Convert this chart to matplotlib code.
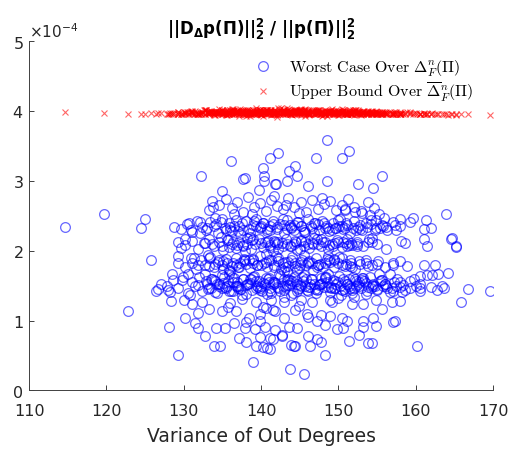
import numpy as np
import matplotlib
matplotlib.use("Agg")
import matplotlib.pyplot as plt
from matplotlib.font_manager import FontProperties

# values in units of 1e-4, grouped by region of the cloud
out_x = [114.6, 119.7, 122.8, 124.5, 125.0, 125.7, 126.4, 126.7, 127.8, 128.1,
         129.2, 138.9, 143.7, 145.6, 148.3, 160.2, 163.9, 164.5, 165.2, 165.9,
         166.8, 169.6, 136.1, 148.5, 128.8]
out_worst = [2.34, 2.52, 1.14, 2.33, 2.45, 1.87, 1.43, 1.45, 1.50, 0.91,
             0.50, 0.41, 0.31, 0.24, 0.50, 0.64, 2.53, 2.17, 2.05, 1.26,
             1.45, 1.42, 3.29, 3.58, 2.34]
out_bound = [3.98, 3.97, 3.96, 3.96, 3.96, 3.97, 3.96, 3.97, 3.95, 3.96,
             3.96, 3.97, 3.98, 3.99, 3.97, 3.96, 3.95, 3.95, 3.96, 3.96,
             3.96, 3.94, 4.00, 3.98, 3.97]

top_x = [151.3, 150.5, 147.1, 142.2, 141.2, 155.6, 154.4, 144.4, 143.6, 140.2,
         140.4, 148.5, 144.6, 137.7, 140.4, 139.7, 141.8, 143.3, 132.2, 137.9,
         141.9, 146.0, 152.5, 135.0]
top_worst = [3.43, 3.32, 3.32, 3.40, 3.33, 3.07, 2.89, 3.21, 3.14, 3.18,
             3.07, 3.00, 3.07, 3.02, 3.00, 2.87, 2.96, 2.99, 3.07, 3.04,
             2.96, 2.92, 2.95, 2.85]
top_bound = [3.99, 3.98, 4.01, 3.97, 3.99, 3.96, 3.97, 4.02, 3.98, 3.99,
             3.97, 4.00, 3.98, 3.96, 3.99, 3.98, 4.01, 3.97, 3.96, 3.98,
             4.00, 3.97, 3.95, 3.98]

b5_x = [133.2, 134.5, 135.4, 136.2, 136.9, 137.6, 138.3, 139.1, 139.8, 140.6,
        141.3, 142.0, 142.8, 143.5, 144.3, 145.1, 145.8, 146.6, 147.4, 148.1,
        148.9, 149.7, 150.4, 151.2, 152.0, 152.9, 153.8, 154.6, 138.8, 141.7,
        144.9, 147.9, 150.9, 136.5, 143.2]
b5_worst = [2.58, 2.66, 2.74, 2.61, 2.70, 2.55, 2.77, 2.63, 2.68, 2.57,
            2.72, 2.64, 2.59, 2.75, 2.62, 2.69, 2.56, 2.73, 2.60, 2.67,
            2.71, 2.58, 2.65, 2.74, 2.62, 2.57, 2.69, 2.61, 2.53, 2.78,
            2.54, 2.76, 2.59, 2.52, 2.66]
b5_bound = [3.97, 3.99, 3.96, 4.01, 3.98, 3.95, 4.00, 3.97, 4.02, 3.96,
            3.98, 3.94, 4.01, 3.97, 3.99, 4.03, 3.96, 3.98, 4.00, 3.95,
            3.97, 4.02, 3.99, 3.96, 3.98, 3.94, 4.00, 3.97, 3.99, 3.96,
            4.01, 3.98, 3.95, 3.97, 3.99]

b4_x = [129.6, 130.4, 131.0, 131.7, 132.3, 132.9, 133.4, 133.9, 134.4, 134.9,
        135.3, 135.8, 136.2, 136.7, 137.1, 137.6, 138.0, 138.5, 138.9, 139.4,
        139.8, 140.3, 140.7, 141.2, 141.6, 142.1, 142.5, 143.0, 143.4, 143.9,
        144.3, 144.8, 145.2, 145.7, 146.1, 146.6, 147.0, 147.5, 147.9, 148.4,
        148.8, 149.3, 149.7, 150.2, 150.6, 151.1, 151.5, 152.0, 152.5, 153.0,
        153.6, 154.2, 154.9, 155.6, 156.3, 157.1, 158.0, 134.1, 137.3, 140.0,
        142.8, 145.5, 148.1, 150.9, 136.0, 139.1, 143.7, 146.9, 149.9, 152.8,
        133.0, 134.2, 135.4, 136.5, 137.5, 138.4, 139.3, 140.2, 141.1, 142.0,
        142.9, 143.8, 144.7, 145.6, 146.5, 147.4, 148.3, 149.2, 150.1, 151.0,
        151.9, 152.8, 153.7, 154.7, 155.8, 134.8, 137.0, 139.8, 141.6, 143.3,
        145.1, 146.9, 148.7, 150.5, 152.3, 154.2, 136.0, 140.7, 144.2, 149.6]
b4_worst = [2.31, 2.38, 2.27, 2.43, 2.34, 2.29, 2.41, 2.36, 2.25, 2.45,
            2.32, 2.39, 2.28, 2.44, 2.35, 2.30, 2.42, 2.26, 2.37, 2.46,
            2.33, 2.40, 2.28, 2.35, 2.43, 2.31, 2.38, 2.26, 2.44, 2.34,
            2.29, 2.41, 2.36, 2.27, 2.45, 2.32, 2.39, 2.30, 2.43, 2.35,
            2.28, 2.40, 2.33, 2.46, 2.31, 2.37, 2.26, 2.42, 2.34, 2.29,
            2.39, 2.44, 2.32, 2.37, 2.30, 2.41, 2.35, 2.47, 2.24, 2.36,
            2.45, 2.27, 2.39, 2.33, 2.30, 2.42, 2.37, 2.25, 2.44, 2.31,
            2.33, 2.38, 2.30, 2.36, 2.40, 2.31, 2.35, 2.39, 2.29, 2.34,
            2.37, 2.32, 2.41, 2.30, 2.35, 2.38, 2.33, 2.29, 2.36, 2.40,
            2.32, 2.37, 2.34, 2.30, 2.36, 2.41, 2.28, 2.34, 2.38, 2.31,
            2.36, 2.40, 2.32, 2.35, 2.29, 2.38, 2.34, 2.31, 2.37, 2.33]
b4_bound = [3.96, 3.98, 4.00, 3.95, 3.97, 4.02, 3.99, 3.94, 3.97, 4.01,
            3.98, 3.96, 4.03, 3.97, 3.93, 3.99, 4.00, 3.96, 3.98, 4.04,
            3.95, 3.97, 4.01, 3.99, 3.96, 3.92, 3.98, 4.02, 3.97, 3.95,
            4.00, 3.98, 3.94, 4.03, 3.97, 3.99, 3.96, 4.01, 3.93, 3.98,
            3.97, 4.00, 3.95, 3.99, 4.02, 3.96, 3.98, 3.94, 4.01, 3.97,
            3.99, 3.96, 3.98, 3.95, 3.97, 3.96, 3.95, 3.98, 4.00, 3.96,
            3.99, 4.01, 3.95, 3.97, 4.00, 3.96, 3.98, 4.02, 3.94, 3.97,
            3.97, 3.99, 3.96, 4.01, 3.98, 3.95, 4.00, 3.97, 3.99, 3.96,
            4.02, 3.98, 3.95, 3.99, 3.97, 4.01, 3.96, 3.98, 4.00, 3.97,
            3.99, 3.96, 3.98, 3.95, 3.97, 3.98, 4.00, 3.96, 3.99, 4.02,
            3.97, 3.95, 3.99, 3.98, 4.01, 3.96, 3.97, 4.00, 3.98, 3.96]

b3_x = [130.2, 131.1, 131.9, 132.6, 133.3, 133.9, 134.5, 135.1, 135.6, 136.2,
        136.7, 137.2, 137.7, 138.2, 138.7, 139.2, 139.7, 140.2, 140.7, 141.2,
        141.7, 142.2, 142.7, 143.2, 143.7, 144.2, 144.7, 145.2, 145.7, 146.2,
        146.7, 147.2, 147.7, 148.2, 148.7, 149.2, 149.8, 150.4, 151.0, 151.7,
        152.4, 153.2, 154.0, 155.0, 156.1, 134.8, 137.9, 140.9, 143.9, 146.9,
        149.5, 135.9, 139.0, 142.0, 145.0, 148.0, 151.3, 138.5, 141.5, 144.5,
        133.6, 135.0, 136.4, 137.6, 138.8, 140.0, 141.1, 142.2, 143.3, 144.4,
        145.5, 146.6, 147.7, 148.8, 149.9, 151.1, 152.4, 153.8, 135.7, 138.2,
        140.5, 142.8, 145.1, 147.3, 149.3, 151.6, 136.9, 141.8, 146.0, 150.6]
b3_worst = [2.08, 2.14, 2.03, 2.11, 2.17, 2.06, 2.12, 2.01, 2.15, 2.09,
            2.04, 2.13, 2.07, 2.18, 2.02, 2.10, 2.16, 2.05, 2.12, 2.08,
            2.14, 2.03, 2.11, 2.17, 2.06, 2.09, 2.01, 2.15, 2.12, 2.04,
            2.10, 2.16, 2.07, 2.13, 2.02, 2.09, 2.15, 2.05, 2.11, 2.08,
            2.13, 2.06, 2.17, 2.10, 2.03, 2.19, 2.00, 2.14, 2.07, 2.18,
            2.11, 2.05, 2.16, 2.09, 2.02, 2.13, 2.08, 2.20, 1.99, 2.12,
            2.10, 2.06, 2.13, 2.08, 2.15, 2.11, 2.05, 2.12, 2.09, 2.14,
            2.07, 2.11, 2.16, 2.08, 2.12, 2.06, 2.10, 2.13, 2.15, 2.09,
            2.12, 2.07, 2.14, 2.10, 2.06, 2.11, 2.08, 2.13, 2.09, 2.12]
b3_bound = [3.97, 3.99, 3.95, 4.01, 3.98, 3.96, 4.03, 3.97, 3.94, 4.00,
            3.98, 3.96, 4.02, 3.99, 3.95, 3.97, 4.01, 3.93, 3.98, 4.00,
            3.96, 4.04, 3.97, 3.99, 3.95, 4.01, 3.98, 3.96, 4.02, 3.94,
            3.99, 3.97, 4.00, 3.95, 3.98, 4.03, 3.96, 3.99, 3.97, 3.95,
            3.98, 3.96, 3.97, 3.96, 3.95, 3.99, 4.01, 3.97, 3.95, 4.00,
            3.97, 3.98, 4.02, 3.96, 3.99, 3.94, 3.98, 4.00, 3.96, 4.01,
            3.98, 3.96, 4.00, 3.97, 3.99, 3.95, 4.01, 3.98, 3.96, 4.02,
            3.97, 3.99, 3.95, 4.00, 3.98, 3.96, 3.97, 3.99, 3.96, 4.01,
            3.98, 3.95, 4.00, 3.97, 3.99, 3.96, 4.02, 3.98, 3.97, 3.95]

b2_x = [129.2, 130.1, 130.9, 131.6, 132.2, 132.8, 133.4, 133.9, 134.4, 134.9,
        135.4, 135.9, 136.3, 136.8, 137.2, 137.7, 138.1, 138.6, 139.0, 139.5,
        139.9, 140.4, 140.8, 141.3, 141.7, 142.2, 142.6, 143.1, 143.5, 144.0,
        144.4, 144.9, 145.3, 145.8, 146.2, 146.7, 147.1, 147.6, 148.0, 148.5,
        148.9, 149.4, 149.9, 150.4, 150.9, 151.5, 152.1, 152.8, 153.5, 154.3,
        155.1, 156.0, 157.0, 133.1, 136.0, 138.9, 141.9, 144.7, 147.4, 150.1,
        135.1, 137.9, 140.6, 143.3, 146.0, 148.7, 151.8, 131.3, 142.9, 145.6,
        134.0, 135.1, 136.2, 137.3, 138.4, 139.5, 140.6, 141.7, 142.8, 143.9,
        145.0, 146.1, 147.2, 148.3, 149.4, 150.5, 151.6, 152.7, 153.8, 155.0,
        134.6, 136.8, 138.9, 141.0, 143.1, 145.2, 147.3, 149.4, 151.5, 153.6,
        135.6, 137.8, 140.0, 142.2, 144.4, 146.6, 148.8, 151.0, 137.0, 143.5]
b2_worst = [1.83, 1.77, 1.89, 1.74, 1.86, 1.80, 1.91, 1.76, 1.84, 1.79,
            1.88, 1.73, 1.82, 1.90, 1.77, 1.85, 1.81, 1.75, 1.87, 1.79,
            1.92, 1.83, 1.76, 1.86, 1.80, 1.89, 1.74, 1.84, 1.78, 1.91,
            1.82, 1.75, 1.87, 1.79, 1.85, 1.73, 1.90, 1.81, 1.77, 1.88,
            1.84, 1.76, 1.83, 1.89, 1.78, 1.86, 1.74, 1.81, 1.87, 1.79,
            1.85, 1.77, 1.83, 1.94, 1.71, 1.88, 1.93, 1.72, 1.80, 1.91,
            1.74, 1.86, 1.95, 1.70, 1.82, 1.93, 1.76, 1.89, 1.71, 1.94,
            1.81, 1.85, 1.78, 1.83, 1.87, 1.79, 1.84, 1.76, 1.82, 1.86,
            1.80, 1.84, 1.77, 1.83, 1.88, 1.79, 1.82, 1.85, 1.78, 1.81,
            1.86, 1.79, 1.83, 1.87, 1.77, 1.84, 1.80, 1.86, 1.78, 1.83,
            1.82, 1.88, 1.80, 1.85, 1.78, 1.83, 1.87, 1.81, 1.76, 1.84]
b2_bound = [3.98, 3.96, 4.00, 3.97, 3.95, 4.02, 3.99, 3.96, 3.98, 4.01,
            3.94, 3.97, 4.03, 3.98, 3.96, 4.00, 3.93, 3.99, 3.97, 4.02,
            3.96, 3.98, 4.01, 3.95, 3.99, 3.97, 4.04, 3.96, 3.98, 3.94,
            4.00, 3.97, 3.99, 4.02, 3.95, 3.98, 3.96, 4.01, 3.97, 3.93,
            3.99, 3.96, 4.00, 3.98, 3.95, 3.97, 3.99, 3.96, 3.97, 3.95,
            3.96, 3.97, 3.95, 3.99, 4.01, 3.96, 3.98, 4.00, 3.97, 3.99,
            3.98, 3.95, 4.02, 3.97, 4.00, 3.96, 3.98, 3.96, 3.99, 4.01,
            3.97, 3.99, 3.96, 4.00, 3.98, 3.95, 4.01, 3.97, 3.99, 3.96,
            4.02, 3.98, 3.96, 3.99, 3.97, 4.00, 3.95, 3.98, 3.96, 3.97,
            3.99, 3.96, 4.01, 3.98, 3.95, 4.00, 3.97, 3.99, 3.96, 3.98,
            4.02, 3.97, 3.95, 3.99, 3.98, 4.00, 3.96, 3.97, 3.99, 3.98]

b1_x = [127.0, 127.9, 128.6, 129.3, 129.9, 130.5, 131.0, 131.5, 132.0, 132.4,
        132.9, 133.3, 133.7, 134.1, 134.5, 134.9, 135.3, 135.7, 136.1, 136.5,
        136.9, 137.3, 137.7, 138.1, 138.5, 138.9, 139.3, 139.7, 140.1, 140.5,
        140.9, 141.3, 141.7, 142.1, 142.5, 142.9, 143.3, 143.7, 144.1, 144.5,
        144.9, 145.3, 145.7, 146.1, 146.5, 146.9, 147.3, 147.7, 148.1, 148.5,
        148.9, 149.3, 149.7, 150.1, 150.5, 150.9, 151.3, 151.7, 152.1, 152.5,
        152.9, 153.3, 153.7, 154.1, 154.5, 155.0, 155.5, 156.0, 156.6, 157.2,
        157.9, 158.6, 159.3, 160.0, 160.6, 130.8, 132.7, 134.3, 135.9, 137.5,
        139.1, 140.7, 142.3, 143.9, 145.5, 147.1, 148.7, 150.3, 151.9, 153.5,
        155.2, 131.9, 133.5, 135.1, 136.7, 138.3, 139.9, 141.5, 143.1, 144.7,
        146.3, 147.9, 149.5, 151.1, 152.7, 154.3, 156.3, 134.0, 136.3, 138.7,
        141.1, 143.5, 145.9, 148.3, 150.7, 153.1, 155.8, 133.0, 137.0, 141.0,
        145.0, 149.0, 152.3, 135.5, 139.5, 143.7, 147.6, 151.5, 128.2, 129.8,
        133.1, 133.9, 134.6, 135.2, 135.8, 136.4, 137.0, 137.6, 138.2, 138.8,
        139.4, 140.0, 140.6, 141.2, 141.8, 142.4, 143.0, 143.6, 144.2, 144.8,
        145.4, 146.0, 146.6, 147.2, 147.8, 148.4, 149.0, 149.6, 150.2, 150.8,
        151.4, 152.0, 152.6, 153.2, 153.8, 154.4, 155.0, 155.6, 156.2, 156.9,
        133.5, 134.9, 136.2, 137.4, 138.6, 139.8, 141.0, 142.2, 143.4, 144.6,
        145.8, 147.0, 148.2, 149.4, 150.6, 151.8, 153.0, 154.2, 155.4, 157.5,
        134.3, 135.6, 136.9, 138.0, 139.6, 140.3, 141.6, 142.8, 144.0, 145.1,
        146.3, 147.5, 148.7, 149.9, 151.1, 152.3, 153.5, 154.7, 156.0, 158.3]
b1_worst = [1.52, 1.44, 1.58, 1.47, 1.62, 1.40, 1.55, 1.49, 1.63, 1.43,
            1.57, 1.46, 1.60, 1.41, 1.53, 1.65, 1.48, 1.56, 1.42, 1.61,
            1.50, 1.45, 1.59, 1.38, 1.54, 1.63, 1.47, 1.57, 1.43, 1.52,
            1.60, 1.40, 1.55, 1.48, 1.64, 1.44, 1.51, 1.58, 1.39, 1.56,
            1.46, 1.62, 1.50, 1.42, 1.59, 1.53, 1.45, 1.61, 1.48, 1.55,
            1.41, 1.58, 1.52, 1.64, 1.44, 1.57, 1.49, 1.40, 1.60, 1.53,
            1.47, 1.56, 1.43, 1.62, 1.50, 1.45, 1.58, 1.52, 1.41, 1.55,
            1.48, 1.44, 1.57, 1.50, 1.46, 1.37, 1.66, 1.39, 1.67, 1.36,
            1.64, 1.38, 1.66, 1.37, 1.65, 1.39, 1.67, 1.36, 1.63, 1.38,
            1.66, 1.51, 1.47, 1.54, 1.49, 1.53, 1.46, 1.55, 1.50, 1.52,
            1.48, 1.54, 1.47, 1.53, 1.49, 1.51, 1.46, 1.57, 1.43, 1.60,
            1.42, 1.59, 1.44, 1.61, 1.45, 1.58, 1.50, 1.53, 1.49, 1.55,
            1.51, 1.48, 1.56, 1.46, 1.50, 1.54, 1.52, 1.47, 1.41, 1.58,
            1.45, 1.58, 1.50, 1.62, 1.43, 1.55, 1.47, 1.60, 1.52, 1.44,
            1.57, 1.49, 1.61, 1.46, 1.54, 1.42, 1.59, 1.51, 1.63, 1.45,
            1.56, 1.48, 1.60, 1.44, 1.53, 1.62, 1.47, 1.57, 1.50, 1.43,
            1.59, 1.46, 1.55, 1.61, 1.48, 1.52, 1.44, 1.58, 1.50, 1.47,
            1.60, 1.47, 1.62, 1.45, 1.59, 1.44, 1.61, 1.46, 1.58, 1.43,
            1.60, 1.45, 1.62, 1.47, 1.59, 1.44, 1.61, 1.46, 1.57, 1.49,
            1.53, 1.50, 1.55, 1.51, 1.48, 1.54, 1.52, 1.49, 1.56, 1.50,
            1.53, 1.51, 1.48, 1.55, 1.52, 1.50, 1.54, 1.49, 1.52, 1.51]
b1_bound = [3.97, 3.96, 3.95, 3.98, 3.96, 3.99, 3.97, 4.00, 3.95, 3.98,
            4.01, 3.96, 3.99, 3.94, 3.98, 4.02, 3.97, 3.95, 4.00, 3.96,
            3.98, 4.03, 3.96, 3.99, 3.93, 3.97, 4.01, 3.98, 3.95, 4.00,
            3.97, 3.94, 4.02, 3.99, 3.96, 3.98, 4.04, 3.95, 3.97, 4.00,
            3.96, 3.99, 3.93, 4.01, 3.98, 3.96, 4.02, 3.97, 3.95, 3.99,
            4.00, 3.96, 3.98, 3.94, 4.03, 3.97, 3.99, 3.95, 4.01, 3.98,
            3.96, 4.00, 3.97, 3.99, 3.95, 3.98, 3.96, 3.97, 3.96, 3.98,
            3.97, 3.96, 3.95, 3.97, 3.96, 3.99, 4.01, 3.96, 3.98, 4.00,
            3.97, 3.95, 4.02, 3.98, 3.96, 4.00, 3.99, 3.97, 4.01, 3.95,
            3.98, 3.97, 4.00, 3.96, 3.99, 3.94, 4.02, 3.97, 3.98, 4.01,
            3.96, 3.99, 4.00, 3.95, 3.98, 3.97, 3.96, 3.98, 4.00, 3.96,
            3.99, 4.01, 3.97, 3.95, 4.02, 3.98, 3.96, 3.99, 4.00, 3.97,
            4.01, 3.98, 3.96, 3.97, 3.99, 4.00, 3.96, 4.02, 3.97, 3.96,
            3.96, 3.99, 3.97, 4.01, 3.95, 3.98, 4.00, 3.96, 4.02, 3.97,
            3.99, 3.94, 3.98, 4.01, 3.96, 4.03, 3.97, 3.99, 3.95, 4.00,
            3.98, 3.96, 4.02, 3.97, 3.99, 3.95, 4.01, 3.98, 3.96, 4.00,
            3.97, 3.99, 3.95, 3.98, 3.96, 3.97, 3.96, 3.98, 3.95, 3.96,
            3.98, 4.00, 3.96, 3.99, 3.97, 4.02, 3.95, 3.98, 4.00, 3.96,
            3.99, 3.97, 4.01, 3.95, 3.98, 3.96, 3.97, 3.99, 3.96, 3.95,
            3.97, 3.99, 4.00, 3.96, 3.98, 4.01, 3.97, 3.95, 3.99, 4.02,
            3.96, 3.98, 4.00, 3.97, 3.95, 3.99, 3.96, 3.98, 3.97, 3.95]

right_x = [163.4, 162.8, 164.1, 162.5, 161.1, 162.9, 162.1, 161.4, 160.5, 159.8,
           160.6, 160.6, 159.3, 162.0, 158.9, 158.0, 157.1, 156.7, 157.6, 158.0,
           158.2, 157.1, 163.6, 154.3, 154.3, 152.4, 151.1, 158.1, 158.6, 161.1,
           161.4, 164.7, 165.2, 161.3, 162.0, 161.1, 159.7, 159.3, 158.0, 157.3,
           157.4, 156.2, 155.4, 154.8, 155.3, 155.9, 154.1, 153.0, 152.2, 150.9]
right_worst = [1.50, 1.44, 1.68, 1.79, 1.79, 1.66, 1.65, 1.65, 1.64, 1.59,
               1.53, 1.43, 1.46, 1.48, 1.78, 1.85, 1.79, 1.67, 1.60, 1.55,
               1.41, 1.43, 1.47, 2.18, 2.13, 2.06, 2.17, 2.14, 2.11, 2.17,
               2.06, 2.18, 2.06, 2.44, 2.33, 2.31, 2.47, 2.41, 2.45, 2.37,
               2.29, 2.34, 2.33, 2.44, 2.53, 2.47, 2.51, 2.54, 2.56, 2.58]
right_bound = [3.95, 3.96, 3.94, 3.95, 3.96, 3.95, 3.97, 3.96, 3.95, 3.97,
               3.96, 3.95, 3.97, 3.96, 3.98, 3.96, 3.97, 3.99, 3.96, 3.98,
               3.97, 3.96, 3.95, 3.98, 4.00, 3.97, 3.99, 3.96, 3.97, 3.95,
               3.96, 3.95, 3.94, 3.96, 3.95, 3.97, 3.96, 3.98, 3.96, 3.97,
               3.99, 3.98, 3.96, 4.00, 3.97, 3.98, 3.99, 3.97, 4.01, 3.98]

left_x = [130.7, 130.9, 130.2, 129.3, 129.7, 132.1, 132.1, 132.8, 133.6, 133.8,
          129.2, 131.0, 131.9, 133.2, 133.2, 130.6, 128.5, 128.4, 130.0, 131.1,
          132.3, 133.2, 131.8, 130.1, 131.5, 131.9, 132.8, 133.9]
left_worst = [2.39, 2.29, 2.17, 2.13, 2.04, 2.41, 2.26, 2.11, 2.71, 2.63,
              1.93, 1.83, 1.80, 1.89, 1.78, 1.67, 1.66, 1.28, 1.29, 1.23,
              1.27, 1.17, 1.11, 1.04, 0.97, 0.89, 0.78, 0.64]
left_bound = [3.96, 3.98, 3.97, 3.95, 3.96, 3.97, 3.99, 3.96, 3.98, 3.97,
              3.96, 3.98, 3.95, 3.97, 4.00, 3.96, 3.97, 3.95, 3.98, 3.96,
              3.99, 3.97, 3.96, 3.98, 3.95, 3.97, 3.96, 3.98]

low_x = [146.3, 144.3, 143.8, 140.7, 139.4, 138.0, 137.2, 134.7, 135.3, 134.2,
         135.0, 135.7, 136.8, 138.4, 137.9, 139.9, 141.2, 142.7, 141.8, 140.5,
         139.9, 140.6, 141.8, 142.9, 144.4, 143.6, 144.6, 146.1, 147.2, 146.1,
         147.2, 148.3, 148.9, 147.8, 145.9, 139.4, 141.3, 142.9, 146.6, 148.9,
         139.2, 158.0, 156.9, 157.3, 155.6, 154.9, 154.9, 154.5, 153.2, 153.2,
         152.7, 153.8, 154.3, 151.4, 150.6, 151.1, 150.4, 149.8, 151.7, 153.2,
         149.2, 138.1, 139.9, 140.3, 141.6, 141.6, 142.7, 144.4, 140.3, 141.2,
         147.8, 157.1, 136.0, 137.5, 143.0, 145.2, 150.0, 152.0, 144.9, 136.5]
low_worst = [0.63, 0.63, 0.65, 0.61, 0.64, 0.69, 0.75, 0.64, 0.90, 0.90,
             1.13, 1.19, 1.13, 1.03, 0.89, 0.76, 0.75, 0.78, 0.86, 0.91,
             1.00, 1.18, 1.13, 1.03, 1.15, 0.91, 0.89, 0.78, 0.74, 1.05,
             1.00, 0.93, 1.07, 1.08, 1.10, 1.27, 1.29, 1.27, 1.27, 1.29,
             0.88, 1.28, 1.26, 0.99, 1.16, 1.30, 0.92, 1.03, 0.91, 1.00,
             0.80, 0.68, 0.68, 0.71, 0.89, 0.99, 1.04, 0.88, 1.24, 1.24,
             1.27, 0.98, 1.10, 1.19, 1.15, 0.74, 0.79, 0.64, 0.62, 0.60,
             0.69, 0.98, 1.25, 1.31, 1.33, 1.30, 1.32, 1.33, 1.21, 0.97]
low_bound = [3.97, 3.99, 3.96, 4.01, 3.98, 3.95, 3.97, 3.96, 3.98, 4.00,
             3.96, 3.98, 3.97, 4.02, 3.95, 3.99, 3.97, 4.00, 3.96, 3.98,
             4.01, 3.97, 3.95, 3.99, 3.96, 4.03, 3.98, 3.97, 3.99, 3.96,
             4.00, 3.97, 3.98, 3.95, 3.99, 3.96, 4.01, 3.97, 3.98, 4.00,
             3.97, 3.96, 3.97, 3.95, 3.98, 3.99, 3.96, 3.97, 4.00, 3.98,
             3.99, 3.96, 3.97, 4.01, 3.98, 3.96, 3.99, 3.97, 4.00, 3.98,
             3.96, 3.98, 3.97, 4.01, 3.99, 3.96, 3.98, 4.00, 3.97, 3.99,
             3.98, 3.96, 3.98, 3.99, 4.02, 3.97, 3.99, 4.00, 3.98, 3.96]

groups = [
    (out_x, out_worst, out_bound),
    (top_x, top_worst, top_bound),
    (b5_x, b5_worst, b5_bound),
    (b4_x, b4_worst, b4_bound),
    (b3_x, b3_worst, b3_bound),
    (b2_x, b2_worst, b2_bound),
    (b1_x, b1_worst, b1_bound),
    (right_x, right_worst, right_bound),
    (left_x, left_worst, left_bound),
    (low_x, low_worst, low_bound),
]

var_deg = np.concatenate([g[0] for g in groups])
worst = np.concatenate([g[1] for g in groups]) * 1e-4
bound = np.concatenate([g[2] for g in groups]) * 1e-4

axis_col = '#404040'
text_col = '#262626'

fig = plt.figure(figsize=(5.1, 4.52), dpi=100)
ax = fig.add_axes([0.057, 0.134, 0.910, 0.773])

ax.plot(var_deg, worst, 'o', mfc='none', mec='blue', ms=7, mew=0.9, alpha=0.6,
        label=r'$\mathrm{Worst\ Case\ Over\ }\Delta_F^n(\Pi)$')
ax.plot(var_deg, bound, 'x', color='red', ms=4.5, mew=0.8, alpha=0.6,
        label=r'$\mathrm{Upper\ Bound\ Over\ }\overline{\Delta}_F^n(\Pi)$')

ax.set_xlim(110, 170)
ax.set_ylim(0, 5e-4)
ax.set_xticks(np.arange(110, 171, 10))
ax.set_yticks(np.arange(0, 5.01e-4, 1e-4))
ax.ticklabel_format(axis='y', style='sci', scilimits=(-4, -4), useMathText=True)
ax.yaxis.get_offset_text().set_fontsize(11)
ax.yaxis.get_offset_text().set_color(text_col)

for side in ['top', 'right']:
    ax.spines[side].set_visible(False)
for side in ['left', 'bottom']:
    ax.spines[side].set_color(axis_col)
    ax.spines[side].set_linewidth(0.7)
ax.tick_params(direction='in', length=3.5, width=0.7, colors=axis_col,
               labelsize=11.5, labelcolor=text_col)
ax.tick_params(axis='x', pad=9)
ax.tick_params(axis='y', pad=4)

ax.set_xlabel('Variance of Out Degrees', fontsize=13.5, color=text_col, labelpad=6)
ax.set_title(r'$\mathbf{||D_{\Delta}p(\Pi)||_2^2\ /\ ||p(\Pi)||_2^2}$',
             fontsize=12, pad=5)

leg_font = FontProperties(size=11.5, math_fontfamily='cm')
ax.legend(loc='upper right', bbox_to_anchor=(0.98, 0.985), frameon=False,
          prop=leg_font, handletextpad=0.6, labelspacing=0.15, borderpad=0.2)

fig.savefig('out.png', dpi=100)
